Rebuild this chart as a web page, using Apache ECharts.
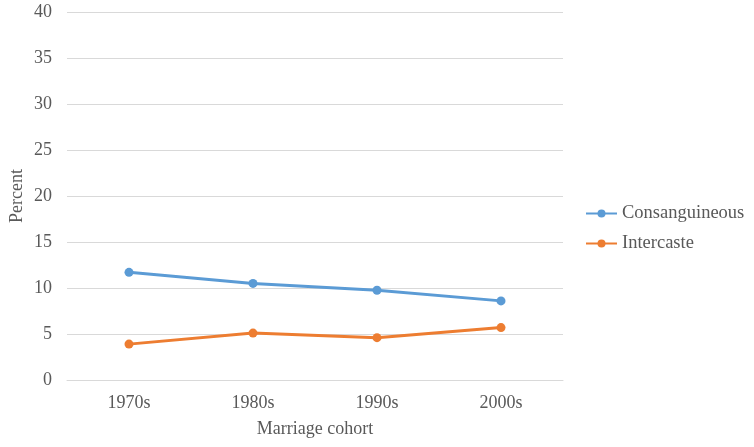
<!DOCTYPE html>
<html>
<head>
<meta charset="utf-8">
<script src="https://cdn.jsdelivr.net/npm/echarts@6/dist/echarts.min.js"></script>
<style>html,body{margin:0;padding:0;background:#fff}#c{width:754px;height:447px}</style>
</head>
<body>
<div id="c"></div>
<script>
const categories = ['1970s', '1980s', '1990s', '2000s'];
const consanguineous = [11.7, 10.5, 9.75, 8.6];
const intercaste = [3.9, 5.1, 4.6, 5.7];
const yTicks = [0, 40, 5];
const yAxisTitle = 'Percent';
const xAxisTitle = 'Marriage cohort';

const font = 'Liberation Serif, Times New Roman, serif';
const chart = echarts.init(document.getElementById('c'));
chart.setOption({
  animation: false,
  backgroundColor: '#fff',
  grid: { left: 67, right: 191, top: 12, bottom: 67, outerBoundsMode: 'none', containLabel: false },
  graphic: [{
    type: 'text',
    x: 17,
    y: 196,
    rotation: Math.PI / 2,
    style: {
      text: yAxisTitle,
      fontFamily: font,
      fontSize: 18,
      fill: '#595959',
      align: 'center',
      verticalAlign: 'middle'
    }
  }],
  legend: {
    orient: 'vertical',
    left: 580,
    top: 199,
    itemWidth: 31,
    itemHeight: 10,
    itemGap: 11,
    textStyle: { fontFamily: font, fontSize: 18.5, color: '#595959' },
    data: ['Consanguineous', 'Intercaste']
  },
  xAxis: {
    type: 'category',
    data: categories,
    boundaryGap: true,
    name: xAxisTitle,
    nameLocation: 'middle',
    nameGap: 40,
    nameTextStyle: { fontFamily: font, fontSize: 18, color: '#595959' },
    axisLine: { lineStyle: { color: '#d9d9d9', width: 1 } },
    axisTick: { show: false },
    axisLabel: { fontFamily: font, fontSize: 18, color: '#595959', margin: 14 }
  },
  yAxis: {
    type: 'value',
    min: yTicks[0],
    max: yTicks[1],
    interval: yTicks[2],
    axisLine: { show: false },
    axisTick: { show: false },
    axisLabel: { fontFamily: font, fontSize: 18, color: '#595959', margin: 15 },
    splitLine: { lineStyle: { color: '#d9d9d9', width: 1 } }
  },
  series: [
    {
      name: 'Consanguineous',
      type: 'line',
      data: consanguineous,
      symbol: 'circle',
      symbolSize: 9,
      itemStyle: { color: '#5B9BD5' },
      lineStyle: { color: '#5B9BD5', width: 3 }
    },
    {
      name: 'Intercaste',
      type: 'line',
      data: intercaste,
      symbol: 'circle',
      symbolSize: 9,
      itemStyle: { color: '#ED7D31' },
      lineStyle: { color: '#ED7D31', width: 3 }
    }
  ]
});
</script>
</body>
</html>
